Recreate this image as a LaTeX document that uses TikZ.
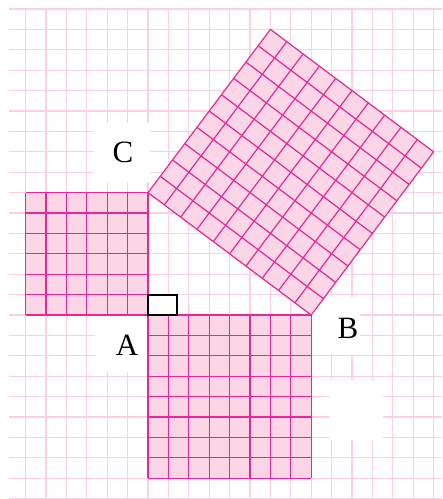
\documentclass[tikz,border=0pt]{standalone}
\usepackage{fontspec}
\setmainfont{Liberation Serif}
\begin{document}
\begin{tikzpicture}[x=20.4pt,y=20.4pt,
  bggrid/.style={draw={rgb,255:red,250;green,208;blue,226},line width=1.2pt},
  patch/.style={fill=white,draw=none},
  sqfill/.style={fill={rgb,255:red,252;green,214;blue,230}},
  sqline/.style={draw={rgb,255:red,230;green,40;blue,150},line width=1.2pt},
  lbl/.style={inner sep=0pt,font=\fontsize{31}{37}\selectfont},
  rmark/.style={draw=black,fill=white,line width=1.3pt}]
\useasboundingbox (-7.255,-9.02) rectangle (14.412,15.441);
% background grid
\foreach \i in {-6,...,14} \draw[bggrid] (\i,-9) -- (\i,15);
\foreach \j in {-9,...,15} \draw[bggrid] (-6.81,\j) -- (14.412,\j);
% white patches
\fill[patch] (-2.65,6.52) rectangle (0.1,9.41);
\fill[patch] (-2.6,-2.8) rectangle (0.2,0);
\fill[patch] (7.65,-1.96) rectangle (10.39,0.88);
\fill[patch] (8.92,-6.13) rectangle (11.52,-3.19);
% key points
\coordinate (A) at (0,0);
\coordinate (B) at (8,0);
\coordinate (C) at (0,6);
% square on AC
\fill[sqfill] (-6,0) rectangle (C);
\foreach \i in {0,...,6} {
  \draw[sqline] (-\i,0) -- (-\i,6);
  \draw[sqline] (-6,\i) -- (0,\i);
}
% square on AB
\fill[sqfill] (0,-8) rectangle (B);
\foreach \i in {0,...,8} {
  \draw[sqline] (\i,-8) -- (\i,0);
  \draw[sqline] (0,-\i) -- (8,-\i);
}
% square on BC
\begin{scope}[cm={0.6,0.8,-0.8,0.6,(8,0)}]
  \fill[sqfill] (0,0) rectangle (10,10);
  \foreach \i in {0,...,10} {
    \draw[sqline] (\i,0) -- (\i,10);
    \draw[sqline] (0,\i) -- (10,\i);
  }
\end{scope}
% right angle mark
\draw[rmark] (A) rectangle (1.42,0.98);
% labels
\node[lbl] (lC) at (-1.225,7.99) {C};
\node[lbl] (lA) at (-1.03,-1.495) {A};
\node[lbl] (lB) at (9.80,-0.64) {B};
\end{tikzpicture}
\end{document}
